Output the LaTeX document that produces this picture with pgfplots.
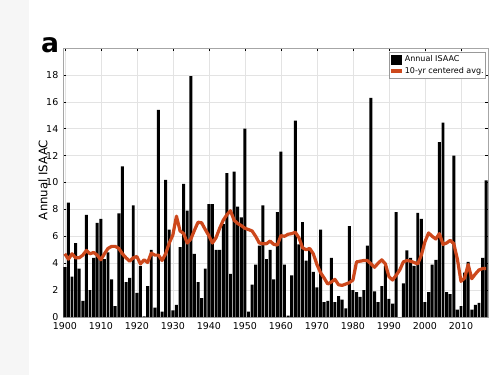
\documentclass[border=0pt]{standalone}
\usepackage{fontspec}
\setmainfont{DejaVu Sans}
\usepackage{pgfplots}
\usepackage{pgfplotstable}
\pgfplotsset{compat=1.18}
\definecolor{avgc}{RGB}{205,72,28}

\pgfplotstableread{
year val
1900 3.7
1901 8.5
1902 3.0
1903 5.5
1904 3.6
1905 1.2
1906 7.6
1907 2.0
1908 4.4
1909 7.0
1910 7.3
1911 4.3
1912 4.8
1913 2.8
1914 0.8
1915 7.7
1916 11.2
1917 2.6
1918 2.9
1919 8.3
1920 1.8
1921 3.8
1922 0.05
1923 2.3
1924 5.0
1925 0.7
1926 15.4
1927 0.4
1928 10.2
1929 6.5
1930 0.5
1931 0.9
1932 5.2
1933 9.9
1934 7.9
1935 17.9
1936 4.7
1937 2.6
1938 1.4
1939 3.6
1940 8.4
1941 8.4
1942 5.0
1943 5.0
1944 6.9
1945 10.7
1946 3.2
1947 10.8
1948 8.2
1949 7.4
1950 14.0
1951 0.4
1952 2.4
1953 3.9
1954 5.3
1955 8.3
1956 4.3
1957 5.0
1958 2.8
1959 7.8
1960 12.3
1961 3.9
1962 0.1
1963 3.1
1964 14.6
1965 5.4
1966 7.05
1967 4.2
1968 5.0
1969 3.35
1970 2.2
1971 6.5
1972 1.1
1973 1.2
1974 4.4
1975 1.1
1976 1.55
1977 1.3
1978 0.65
1979 6.75
1980 2.0
1981 1.85
1982 1.5
1983 2.0
1984 5.3
1985 16.3
1986 1.9
1987 1.1
1988 2.3
1989 3.8
1990 1.35
1991 1.0
1992 7.8
1993 0.0
1994 2.5
1995 4.95
1996 4.4
1997 3.8
1998 7.75
1999 7.3
2000 1.1
2001 1.85
2002 3.9
2003 4.25
2004 13.0
2005 14.45
2006 1.85
2007 1.7
2008 12.0
2009 0.55
2010 0.8
2011 3.3
2012 4.1
2013 0.55
2014 0.9
2015 1.05
2016 4.4
2017 10.15
}\annual

\pgfplotstableread{
year avg
1900 4.7
1901 4.3
1902 4.7
1903 4.4
1904 4.4
1905 4.6
1906 4.95
1907 4.7
1908 4.8
1909 4.6
1910 4.25
1911 4.7
1912 5.1
1913 5.25
1914 5.25
1915 5.1
1916 4.7
1917 4.4
1918 4.15
1919 4.4
1920 4.5
1921 3.95
1922 4.25
1923 4.05
1924 4.75
1925 4.6
1926 4.6
1927 4.2
1928 4.7
1929 5.5
1930 6.1
1931 7.5
1932 6.4
1933 6.2
1934 5.5
1935 5.8
1936 6.45
1937 7.05
1938 7.0
1939 6.5
1940 6.05
1941 5.5
1942 5.9
1943 6.6
1944 7.2
1945 7.6
1946 7.9
1947 7.2
1948 6.95
1949 6.8
1950 6.6
1951 6.5
1952 6.4
1953 6.0
1954 5.5
1955 5.45
1956 5.45
1957 5.65
1958 5.4
1959 5.35
1960 6.05
1961 6.0
1962 6.15
1963 6.2
1964 6.3
1965 5.9
1966 5.15
1967 5.0
1968 5.1
1969 4.7
1970 3.9
1971 3.3
1972 2.9
1973 2.45
1974 2.6
1975 2.8
1976 2.4
1977 2.35
1978 2.45
1979 2.55
1980 2.75
1981 4.1
1982 4.15
1983 4.2
1984 4.2
1985 3.95
1986 3.7
1987 4.0
1988 4.25
1989 3.95
1990 3.0
1991 2.75
1992 3.1
1993 3.5
1994 4.1
1995 4.2
1996 4.15
1997 4.05
1998 3.95
1999 4.6
2000 5.6
2001 6.25
2002 6.0
2003 5.8
2004 6.2
2005 5.4
2006 5.5
2007 5.7
2008 5.45
2009 4.3
2010 2.65
2011 2.9
2012 3.9
2013 2.85
2014 3.2
2015 3.5
2016 3.6
2017 3.6
}\tenyr

\begin{document}
\begin{tikzpicture}[x=0.75pt,y=0.75pt]
\path[use as bounding box] (0,0) rectangle (500,375);
\fill[gray!7] (0,0) rectangle (29,375);
\begin{axis}[
  at={(47.25pt,43.5pt)}, anchor=south west,
  scale only axis, width=318.75pt, height=201.75pt,
  xmin=1899.5, xmax=2017.5, ymin=0, ymax=20,
  xtick={1900,1910,...,2010}, ytick={0,2,...,18},
  tick align=inside, major tick length=2.2pt,
  every tick/.style={black, line width=0.4pt},
  xmajorgrids, ymajorgrids,
  major grid style={gray!22, line width=0.4pt},
  axis line style={gray!70, line width=0.5pt},
  tick label style={font=\fontsize{7.1}{8}\selectfont},
  /pgf/number format/assume math mode=true,
  /pgf/number format/1000 sep={},
  xticklabel style={yshift=-0.5pt},
  axis on top=false,
  legend style={at={(1,1)}, anchor=north east, xshift=-1.5pt, yshift=-3pt,
    font=\fontsize{6}{7}\selectfont, draw=gray!80, line width=0.4pt,
    inner xsep=0.5pt, inner ysep=0.5pt, row sep=-1.5pt,
    nodes={inner xsep=1pt}},
  legend cell align=left,
]
\addplot[ybar, bar width=0.82, bar shift=0pt, fill=black, draw=none,
  legend image code/.code={\fill[black] (0pt,-3.8pt) rectangle (8pt,3.8pt);}]
  table[x=year, y=val] {\annual};
\addlegendentry{Annual ISAAC}
\addplot[avgc, line width=2.4pt, line join=round, mark=none,
  legend image code/.code={\draw[avgc, line width=2.4pt] (0pt,0pt) -- (8pt,0pt);}]
  table[x=year, y=avg] {\tenyr};
\addlegendentry{10-yr centered avg.}
\end{axis}
\node[rotate=90, font=\fontsize{8.8}{10}\selectfont] at (43,195) {Annual ISAAC};
\node[font=\bfseries\fontsize{20}{22}\selectfont] at (50,330) {a};
\end{tikzpicture}
\end{document}
